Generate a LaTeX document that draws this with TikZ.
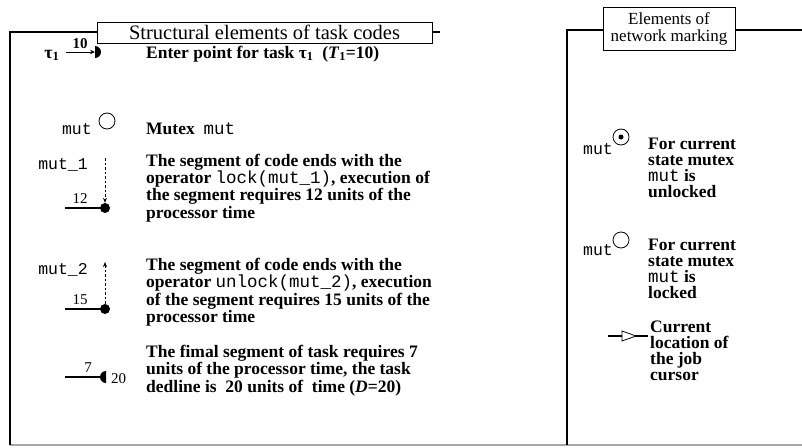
\documentclass[tikz,border=0pt]{standalone}
\usepackage{fontspec}
\setmainfont{Liberation Serif}
\setmonofont{Liberation Mono}
\usetikzlibrary{arrows.meta}

\tikzset{
  % multi-line texts: the base anchor sits on the last line's baseline
  desc/.style={anchor=base west, align=left, inner sep=0pt,
    font=\bfseries\fontsize{17.5}{16}\selectfont},
  code/.style={inner sep=0pt, font=\mdseries\ttfamily\fontsize{16.5}{16}\selectfont},
  num/.style={inner sep=0pt, font=\fontsize{15}{15}\selectfont},
  titlebox/.style={draw, fill=white, line width=0.8pt, align=center, inner sep=0pt},
  frameedge/.style={line width=2.6pt},
  floorline/.style={line width=1.1pt, gray!70},
  seg/.style={line width=1.6pt},
  lockline/.style={line width=0.7pt, dash pattern=on 2.5pt off 2pt,
    -{Stealth[length=5pt,width=4pt]}},
  place/.style={draw, circle, line width=0.8pt, minimum size=16pt, inner sep=0pt},
  token/.style={fill, circle, minimum size=10pt, inner sep=0pt},
}
\newcommand{\mtt}[1]{{\mdseries\ttfamily #1}}

\begin{document}
\begin{tikzpicture}[x=1pt, y=-1pt]
  \useasboundingbox (0,0) rectangle (802,447);

  % ---- frames ----
  \coordinate (lb) at (10,445);
  \coordinate (lt) at (10,32);
  \coordinate (lr) at (440,32);
  \coordinate (rb) at (567,445);
  \coordinate (rt) at (567,30);
  \coordinate (rr) at (802,30);
  \coordinate (fe) at (802,445);
  \draw[floorline] (lb) -- (fe);
  \draw[frameedge] (lb) -- (lt) -- (lr);
  \draw[frameedge] (rb) -- (rt) -- (rr);

  \node[titlebox, minimum width=335pt, minimum height=21pt,
        font=\fontsize{20.5}{19}\selectfont] (ltitle) at (264.5,32.5)
    {Structural elements of task codes};
  \node[titlebox, minimum width=132pt, minimum height=43pt,
        font=\fontsize{17}{17}\selectfont] (rtitle) at (669,28.5)
    {Elements of\\network marking};

  % ---- entry point ----
  \node[inner sep=0pt, anchor=base, font=\bfseries\fontsize{18}{18}\selectfont] (tau) at (52,58)
    {τ\textsubscript{1}};
  \coordinate (ea) at (66,52);
  \coordinate (eb) at (95,52);
  \draw[line width=1pt, -{Stealth[length=5pt,width=4.5pt]}] (ea) -- (eb);
  \fill (95,46) arc[start angle=90, end angle=-90, radius=6pt] -- cycle;
  \node[num, anchor=base] (per) at (80,48) {\bfseries 10};
  \node[desc] (d1) at (146,58)
    {Enter point for task τ\textsubscript{1}\ \ (\textit{T}\textsubscript{1}=10)};

  % ---- mutex ----
  \node[code, anchor=base east] (m0) at (92,134) {mut};
  \node[place] (p0) at (107,121) {};
  \node[desc] (d2) at (146,134) {Mutex\ \ \mtt{mut}};

  % ---- lock segment ----
  \node[code, anchor=base east] (m1) at (88,169) {mut\_1};
  \node[token] (k1) at (105,208) {};
  \coordinate (s1) at (65,208);
  \coordinate (q1) at (105,158);
  \draw[seg] (s1) -- (k1.center);
  \draw[lockline] (q1) -- (k1.north);
  \node[num, anchor=base] (w1) at (80,203) {12};
  \node[desc] (d3) at (146,218)
    {The segment of code ends with the\\
     operator \mtt{lock(mut\_1)}, execution of\\
     the segment requires 12 units of the\\
     processor time};

  % ---- unlock segment ----
  \node[code, anchor=base east] (m2) at (88,274) {mut\_2};
  \node[token] (k2) at (105,309) {};
  \coordinate (s2) at (65,309);
  \coordinate (q2) at (105,262);
  \draw[seg] (s2) -- (k2.center);
  \draw[lockline] (k2.north) -- (q2);
  \node[num, anchor=base] (w2) at (80,304) {15};
  \node[desc] (d4) at (146,322)
    {The segment of code ends with the\\
     operator \mtt{unlock(mut\_2)}, execution\\
     of the segment requires 15 units of the\\
     processor time};

  % ---- final segment ----
  \coordinate (s3) at (65,377);
  \coordinate (k3) at (106,377);
  \draw[seg] (s3) -- (k3);
  \fill (k3) ++(0,-6) arc[start angle=90, end angle=270, radius=6pt] -- cycle;
  \node[num, anchor=base] (w3) at (88,372) {7};
  \node[num, anchor=base west] (dl) at (111,383) {20};
  \node[desc] (d5) at (146,392)
    {The fimal segment of task requires 7\\
     units of the processor time, the task\\
     dedline is\ \ 20 units of\ \ time (\textit{D}=20)};

  % ---- marking: unlocked ----
  \node[code, anchor=base east] (n1) at (613,154) {mut};
  \node[place] (u1) at (621,137) {};
  \node[fill, circle, minimum size=5pt, inner sep=0pt] (u1t) at (u1) {};
  \node[desc] (e1) at (648,197)
    {For current\\state mutex\\\mtt{mut} is\\unlocked};

  % ---- marking: locked ----
  \node[code, anchor=base east] (n2) at (613,255) {mut};
  \node[place] (u2) at (621,240) {};
  \node[desc] (e2) at (648,298)
    {For current\\state mutex\\\mtt{mut} is\\locked};

  % ---- job cursor ----
  \coordinate (c0) at (608,336);
  \coordinate (c1) at (648,336);
  \draw[seg] (c0) -- (c1);
  \draw[fill=white, line width=0.8pt] (622,331) -- (636,336) -- (622,341) -- cycle;
  \node[desc] (e3) at (650,380)
    {Current\\location of\\the job\\cursor};
\end{tikzpicture}
\end{document}
